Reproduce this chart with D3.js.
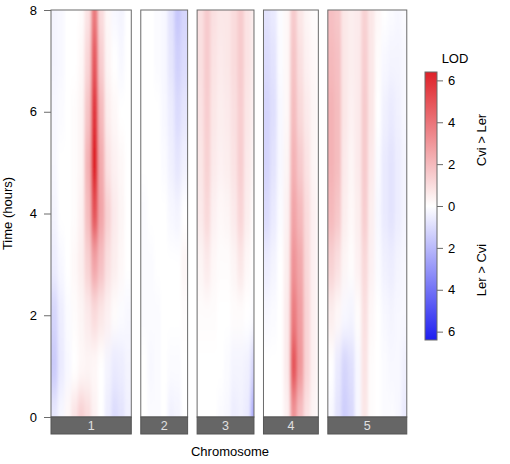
<!DOCTYPE html>
<html>
<head>
<meta charset="utf-8">
<script src="https://cdn.jsdelivr.net/npm/d3@7"></script>
<style>
  body { margin: 0; background: #fff; }
  text { font-family: "Liberation Sans", Arial, Helvetica, sans-serif; }
</style>
</head>
<body>
<div id="chart"></div>
<script>
// time points (hours), one row of each matrix per time point
const times = [0, 1, 2, 3, 4, 5, 6, 7, 8];
const chrNames = ["1", "2", "3", "4", "5"];
const chrLengths = [120, 70, 85, 82, 118]; // cM

// marker positions (cM) for each chromosome
const pos1 = [5, 15, 25, 35, 45, 55, 65, 75, 85, 95, 105, 115];
const pos2 = [5, 15, 25, 35, 45, 55, 65];
const pos3 = [5, 15, 25, 35, 45, 55, 65, 75, 85];
const pos4 = [5, 15, 25, 35, 45, 55, 65, 75, 85];
const pos5 = [5, 15, 25, 35, 45, 55, 65, 75, 85, 95, 105, 115];

// signed LOD (+ = Cvi > Ler), rows t = 0 .. 8
const lod1 = [
  [-0.6, -0.2, 0.2, 0.8, 1.4, 1.0, 0.4, 0, -0.5, -1.0, -0.8, -0.4],
  [-1.5, -0.6, -0.2, 0, 0.2, 0.3, 0.2, 0, -0.3, -0.6, -0.5, -0.3],
  [-1.2, -0.5, -0.1, 0.1, 0.3, 0.6, 1.0, 0.7, 0.4, 0.1, -0.1, -0.2],
  [-0.5, -0.2, 0, 0.2, 0.5, 1.3, 2.6, 1.8, 0.9, 0.5, 0.2, 0],
  [-0.3, 0, 0, 0.1, 0.4, 1.9, 5.0, 2.6, 1.3, 0.6, 0.3, 0],
  [-0.2, 0, 0, 0.1, 0.3, 2.2, 6.8, 2.4, 0.8, 0.4, 0.2, 0],
  [-0.2, -0.1, 0, 0.1, 0.3, 1.7, 5.8, 2.0, 0.5, 0.2, 0, 0],
  [-0.3, -0.2, 0, 0, 0.2, 1.2, 4.8, 1.4, 0.3, 0, -0.2, 0],
  [-0.3, -0.2, 0, 0, 0.1, 0.8, 3.8, 1.0, 0.2, -0.2, -0.3, 0]
];
const lod2 = [
  [0, -0.1, -0.1, 0, -0.4, -0.3, 0],
  [0, -0.2, -0.1, 0, -0.1, -0.1, 0],
  [-0.1, -0.1, -0.1, 0, 0, 0, 0.1],
  [-0.1, -0.1, 0, 0, 0, 0, 0.3],
  [-0.1, 0, 0, 0, -0.2, -0.3, 0],
  [0, 0, 0, -0.1, -0.4, -0.7, -0.4],
  [0, 0, 0, -0.2, -0.5, -1.0, -0.7],
  [0, 0, -0.1, -0.2, -0.7, -1.3, -1.0],
  [0, 0, -0.1, -0.2, -0.8, -1.6, -1.2]
];
const lod3 = [
  [0, 0, 0, -0.1, -0.2, -0.5, -0.4, -0.6, -2.5],
  [0, 0, 0, 0, -0.1, -0.3, -0.3, -0.4, -1.2],
  [0.1, 0.1, 0.1, 0, 0, 0.1, 0.1, 0, -0.1],
  [0.3, 0.6, 0.2, 0.1, 0.1, 0.3, 0.7, 0.2, 0],
  [0.6, 1.1, 0.4, 0.2, 0.3, 0.6, 1.2, 0.5, 0.1],
  [0.7, 1.3, 0.6, 0.4, 0.5, 0.8, 1.4, 0.6, 0.3],
  [0.8, 1.4, 0.7, 0.5, 0.6, 0.9, 1.4, 0.7, 0.4],
  [0.9, 1.5, 0.8, 0.6, 0.7, 1.0, 1.5, 0.8, 0.5],
  [0.9, 1.5, 0.9, 0.7, 0.7, 1.0, 1.5, 0.8, 0.5]
];
const lod4 = [
  [0, 0, 0, 0.4, 3.0, 1.8, 0.8, 0.3, 0],
  [0, 0, 0, 0.6, 5.0, 3.0, 1.2, 0.4, 0],
  [-0.2, -0.1, 0, 0.6, 3.8, 2.8, 1.2, 0.4, 0],
  [-0.5, -0.3, 0, 0.5, 3.1, 2.5, 1.1, 0.4, 0],
  [-1.0, -0.6, -0.1, 0.4, 2.6, 2.0, 1.0, 0.4, 0],
  [-1.2, -0.8, -0.2, 0.3, 2.2, 1.5, 0.8, 0.3, 0],
  [-1.2, -0.9, -0.2, 0.2, 1.9, 1.1, 0.6, 0.3, 0],
  [-1.0, -0.8, -0.1, 0.2, 1.7, 0.9, 0.4, 0.2, 0],
  [-0.8, -0.6, -0.1, 0.2, 1.5, 0.7, 0.3, 0.1, 0]
];
const lod5 = [
  [-0.2, -0.8, -1.4, -1.1, -0.2, 0.7, 0.1, 0, -0.1, -0.1, -0.2, -0.6],
  [0, -0.6, -1.2, -0.9, -0.2, 0.8, 0.1, 0, -0.1, -0.2, -0.2, -0.4],
  [0.5, 0.2, -0.2, -0.3, 0.1, 0.9, 0.2, 0, -0.2, -0.3, -0.2, -0.2],
  [1.3, 0.9, 0.3, 0.1, 0.4, 1.1, 0.4, -0.1, -0.4, -0.5, -0.3, -0.2],
  [2.0, 1.6, 0.5, 0.2, 0.5, 1.4, 0.5, -0.2, -0.6, -0.8, -0.5, -0.3],
  [2.2, 1.9, 0.6, 0.3, 0.6, 1.5, 0.6, -0.1, -0.6, -0.8, -0.5, -0.3],
  [2.2, 1.9, 0.7, 0.4, 0.6, 1.5, 0.7, 0, -0.4, -0.6, -0.4, -0.2],
  [2.0, 1.8, 0.7, 0.5, 0.6, 1.4, 0.7, 0.1, -0.2, -0.3, -0.3, -0.2],
  [1.8, 1.6, 0.7, 0.5, 0.6, 1.3, 0.7, 0.2, 0, -0.1, -0.2, -0.1]
];
const positions = [pos1, pos2, pos3, pos4, pos5];
const lods = [lod1, lod2, lod3, lod4, lod5];

const yTicks = [0, 2, 4, 6, 8];
const legendTicks = [-6, -4, -2, 0, 2, 4, 6];
const lodMax = 6.4;

const width = 510, height = 464;
const plotLeft = 51, plotTop = 10, plotBottom = 417;
const pxPerCM = 0.669, gap = 9.5, stripH = 17;

const svg = d3.select("#chart").append("svg")
  .attr("width", width).attr("height", height);

const color = d3.scaleLinear()
  .domain([-lodMax, 0, lodMax])
  .range(["rgb(30,30,240)", "#ffffff", "rgb(222,32,40)"])
  .clamp(true);

const yScale = d3.scaleLinear().domain([0, 8]).range([plotBottom, plotTop]);

// blur to give the smooth image look
const defs = svg.append("defs");
defs.append("filter").attr("id", "soft")
  .attr("filterUnits", "userSpaceOnUse")
  .attr("x", 0).attr("y", -50).attr("width", width).attr("height", height + 100)
  .append("feGaussianBlur").attr("stdDeviation", "1.8 15");

// panel x scales
let x0 = plotLeft;
const xScales = chrLengths.map(len => {
  const s = d3.scaleLinear().domain([0, len]).range([x0, x0 + len * pxPerCM]);
  x0 += len * pxPerCM + gap;
  return s;
});

const frame = "#6b6b6b";
const pad = 30;

chrNames.forEach((name, i) => {
  const xs = xScales[i];
  const [xa, xb] = xs.range();
  const pos = positions[i];
  const step = pos[1] - pos[0];

  defs.append("clipPath").attr("id", "clip" + i)
    .append("rect")
    .attr("x", xa).attr("y", plotTop)
    .attr("width", xb - xa).attr("height", plotBottom - plotTop);

  const cells = [];
  lods[i].forEach((row, r) => {
    row.forEach((v, c) => {
      cells.push({ t: times[r], p: pos[c], v, r, c });
    });
  });

  const g = svg.append("g").attr("clip-path", `url(#clip${i})`);
  g.append("g").attr("filter", "url(#soft)")
    .selectAll("rect")
    .data(cells)
    .join("rect")
    .attr("x", d => xs(d.p - step / 2) - (d.c === 0 ? pad : 0))
    .attr("width", d => xs(d.p + step / 2) - xs(d.p - step / 2) + 0.6
      + (d.c === 0 ? pad : 0) + (d.c === pos.length - 1 ? pad : 0))
    .attr("y", d => yScale(d.t + 0.5) - (d.r === times.length - 1 ? pad : 0))
    .attr("height", d => yScale(d.t - 0.5) - yScale(d.t + 0.5) + 0.6
      + (d.r === 0 ? pad : 0) + (d.r === times.length - 1 ? pad : 0))
    .attr("fill", d => color(d.v));

  svg.append("rect")
    .attr("x", xa).attr("y", plotTop)
    .attr("width", xb - xa).attr("height", plotBottom - plotTop)
    .attr("fill", "none").attr("stroke", frame);

  // strip with chromosome name
  svg.append("rect")
    .attr("x", xa).attr("y", plotBottom)
    .attr("width", xb - xa).attr("height", stripH)
    .attr("fill", "#666").attr("stroke", "#555");
  svg.append("text")
    .attr("x", (xa + xb) / 2).attr("y", plotBottom + 13)
    .attr("text-anchor", "middle")
    .attr("fill", "#e0e0e0").attr("font-size", 12.5)
    .text(name);
});

// y axis
const yAxis = svg.append("g")
  .attr("transform", `translate(${plotLeft},0)`)
  .call(d3.axisLeft(yScale).tickValues(yTicks).tickSize(7).tickPadding(7));
yAxis.select(".domain").remove();
yAxis.selectAll("line").attr("stroke", frame);
yAxis.selectAll("text").attr("font-size", 13).attr("fill", "#000")
  .attr("font-family", "Liberation Sans, Arial, sans-serif");

svg.append("text")
  .attr("transform", `translate(12,${(plotTop + plotBottom) / 2}) rotate(-90)`)
  .attr("text-anchor", "middle").attr("font-size", 13)
  .text("Time (hours)");

svg.append("text")
  .attr("x", 230).attr("y", 456)
  .attr("text-anchor", "middle").attr("font-size", 13)
  .text("Chromosome");

// colour key
const keyX = 425, keyW = 12, keyTop = 72, keyBottom = 340;
const keyScale = d3.scaleLinear().domain([-lodMax, lodMax]).range([keyBottom, keyTop]);

const grad = defs.append("linearGradient").attr("id", "keyGrad")
  .attr("x1", 0).attr("y1", 1).attr("x2", 0).attr("y2", 0);
grad.selectAll("stop")
  .data(d3.range(0, 1.0001, 0.05))
  .join("stop")
  .attr("offset", d => d)
  .attr("stop-color", d => color(-lodMax + d * 2 * lodMax));

svg.append("rect")
  .attr("x", keyX).attr("y", keyTop)
  .attr("width", keyW).attr("height", keyBottom - keyTop)
  .attr("fill", "url(#keyGrad)").attr("stroke", frame);

const keyAxis = svg.append("g")
  .attr("transform", `translate(${keyX + keyW},0)`)
  .call(d3.axisRight(keyScale).tickValues(legendTicks).tickSize(6).tickPadding(5)
    .tickFormat(d => Math.abs(d)));
keyAxis.select(".domain").remove();
keyAxis.selectAll("line").attr("stroke", frame);
keyAxis.selectAll("text").attr("font-size", 13).attr("fill", "#000")
  .attr("font-family", "Liberation Sans, Arial, sans-serif");

svg.append("text")
  .attr("x", 455).attr("y", 63)
  .attr("text-anchor", "middle").attr("font-size", 13)
  .text("LOD");

svg.append("text")
  .attr("transform", `translate(486,140) rotate(-90)`)
  .attr("text-anchor", "middle").attr("font-size", 13)
  .text("Cvi > Ler");
svg.append("text")
  .attr("transform", `translate(486,270) rotate(-90)`)
  .attr("text-anchor", "middle").attr("font-size", 13)
  .text("Ler > Cvi");
</script>
</body>
</html>
